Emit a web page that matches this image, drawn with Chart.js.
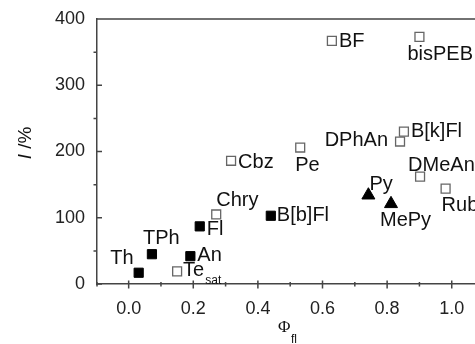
<!DOCTYPE html>
<html>
<head>
<meta charset="utf-8">
<script src="https://cdn.jsdelivr.net/npm/chart.js@4.4.1/dist/chart.umd.min.js"></script>
<style>
html,body{margin:0;padding:0;background:#fff;overflow:hidden;}
#wrap{width:475px;height:344px;position:relative;}
</style>
</head>
<body>
<div id="wrap"><canvas id="c" width="475" height="344"></canvas></div>
<script>
// ---- data ----
const openNames = ['Te_sat','Chry','Cbz','Pe','BF','bisPEB','DPhAn','B[k]Fl','DMeAn','Rub'];
const openPhi   = [0.150, 0.271, 0.317, 0.531, 0.629, 0.900, 0.840, 0.852, 0.902, 0.981];
const openI     = [19, 105, 186, 206, 367, 373, 215, 230, 162, 144];

const filledNames = ['Th','TPh','An','Fl','B[b]Fl'];
const filledPhi   = [0.031, 0.072, 0.191, 0.220, 0.440];
const filledI     = [17, 45, 42, 87, 103];

const triNames = ['Py','MePy'];
const triPhi   = [0.742, 0.812];
const triI     = [134, 121];

const xTicks = [0.0, 0.2, 0.4, 0.6, 0.8, 1.0];
const xMinor = [-0.1, 0.1, 0.3, 0.5, 0.7, 0.9];
const yTicks = [0, 100, 200, 300, 400];
const yMinor = [50, 150, 250, 350];

// label placement (offset from point in px, text alignment)
const labelPlace = {
  'Th':[-5,-9,'right'], 'TPh':[-9,-10,'left'], 'An':[7,5,'left'], 'Te_sat':[6,5,'left'],
  'Fl':[7,9,'left'], 'Chry':[0,-8,'left'], 'Cbz':[7,7,'left'], 'B[b]Fl':[6,5,'left'],
  'Pe':[-5,23,'left'], 'BF':[7,6,'left'], 'bisPEB':[-12,23,'left'], 'DPhAn':[-12,4,'right'],
  'B[k]Fl':[7,5,'left'], 'DMeAn':[-12,-6,'left'], 'Rub':[-4,22,'left'], 'Py':[1,-5,'left'],
  'MePy':[-11,22,'left']
};

function pts(xs, ys){ return xs.map((x,i)=>({x:x, y:ys[i]})); }

const LABEL_FONT = '20px "Liberation Sans", Arial, sans-serif';

const labelPlugin = {
  id:'labels',
  afterDatasetsDraw(chart){
    const ctx = chart.ctx;
    ctx.save();
    ctx.fillStyle = '#111';
    ctx.textBaseline = 'alphabetic';
    chart.data.datasets.forEach((ds, di)=>{
      const meta = chart.getDatasetMeta(di);
      meta.data.forEach((el, i)=>{
        const name = ds.names[i];
        const p = labelPlace[name] || [6,5,'left'];
        const parts = name.split('_');
        let x = el.x + p[0], y = el.y + p[1];
        ctx.font = LABEL_FONT;
        ctx.textAlign = p[2];
        ctx.fillText(parts[0], x, y);
        if (parts[1]) {
          const w = ctx.measureText(parts[0]).width;
          ctx.font = '12px "Liberation Sans", Arial, sans-serif';
          ctx.textAlign = 'left';
          ctx.fillText(parts[1], x + w + 1, y + 8);
        }
      });
    });
    ctx.restore();
  }
};

const axesPlugin = {
  id:'axesExtra',
  afterDraw(chart){
    const ctx = chart.ctx, a = chart.chartArea;
    const xs = chart.scales.x, ys = chart.scales.y;
    ctx.save();
    ctx.strokeStyle = '#444';
    ctx.lineWidth = 1.5;
    ctx.beginPath();
    ctx.moveTo(a.left, a.top); ctx.lineTo(a.right, a.top);
    const y0 = a.bottom;
    xTicks.forEach(v=>{ const px = xs.getPixelForValue(v); ctx.moveTo(px, y0-3.5); ctx.lineTo(px, y0+4.5); });
    xMinor.forEach(v=>{ const px = Math.max(xs.getPixelForValue(v), a.left); ctx.moveTo(px, y0-2); ctx.lineTo(px, y0+2.5); });
    yTicks.forEach(v=>{ const py = ys.getPixelForValue(v); ctx.moveTo(a.left, py); ctx.lineTo(a.left+5, py); });
    yMinor.forEach(v=>{ const py = ys.getPixelForValue(v); ctx.moveTo(a.left-3.5, py); ctx.lineTo(a.left, py); });
    ctx.stroke();
    // axis titles
    ctx.fillStyle = '#111';
    ctx.textBaseline = 'alphabetic';
    ctx.textAlign = 'left';
    ctx.font = '17px "Liberation Serif", "Times New Roman", serif';
    ctx.fillText('Φ', 278, 332);
    ctx.font = '12px "Liberation Sans", Arial, sans-serif';
    ctx.fillText('fl', 291, 343);
    ctx.translate(31, 143);
    ctx.rotate(-Math.PI/2);
    ctx.font = 'italic 19px "Liberation Sans", Arial, sans-serif';
    const w1 = ctx.measureText('I').width;
    ctx.font = '19px "Liberation Sans", Arial, sans-serif';
    const w2 = ctx.measureText(' /%').width;
    const start = -(w1+w2)/2;
    ctx.font = 'italic 19px "Liberation Sans", Arial, sans-serif';
    ctx.fillText('I', start, 0);
    ctx.font = '19px "Liberation Sans", Arial, sans-serif';
    ctx.fillText(' /%', start + w1, 0);
    ctx.restore();
  }
};

function noPad(s){ s.paddingLeft = 0; s.paddingRight = 0; s.paddingTop = 0; s.paddingBottom = 0; }

new Chart(document.getElementById('c'), {
  type:'scatter',
  data:{
    datasets:[
      {label:'open', names:openNames, data:pts(openPhi, openI), pointStyle:'rect', pointRadius:6.3,
       backgroundColor:'#fff', borderColor:'#666', borderWidth:1.3},
      {label:'filled', names:filledNames, data:pts(filledPhi, filledI), pointStyle:'rect', pointRadius:6.5,
       backgroundColor:'#000', borderColor:'#000', borderWidth:1},
      {label:'tri', names:triNames, data:pts(triPhi, triI), pointStyle:'triangle', pointRadius:7.5,
       backgroundColor:'#000', borderColor:'#000', borderWidth:1}
    ]
  },
  options:{
    responsive:false,
    animation:false,
    events:[],
    layout:{autoPadding:false, padding:{top:19, right:0, left:0, bottom:0}},
    plugins:{legend:{display:false}, tooltip:{enabled:false}},
    scales:{
      x:{
        type:'linear', min:-0.098, max:1.072,
        afterBuildTicks:s=>{ s.ticks = xTicks.map(v=>({value:v})); },
        afterFit:s=>{ s.height = 60; noPad(s); },
        grid:{display:false, drawTicks:false},
        border:{display:true, color:'#444', width:1.5},
        ticks:{padding:14, color:'#222', font:{family:'"Liberation Sans", Arial, sans-serif', size:18},
               maxRotation:0, autoSkip:false, callback:v=>Number(v).toFixed(1)}
      },
      y:{
        type:'linear', min:0, max:400,
        afterBuildTicks:s=>{ s.ticks = yTicks.map(v=>({value:v})); },
        afterFit:s=>{ s.width = 97; noPad(s); },
        grid:{display:false, drawTicks:false},
        border:{display:true, color:'#444', width:1.5},
        ticks:{padding:12, color:'#222', font:{family:'"Liberation Sans", Arial, sans-serif', size:18},
               autoSkip:false, callback:v=>String(v)}
      }
    }
  },
  plugins:[labelPlugin, axesPlugin]
});
</script>
</body>
</html>
